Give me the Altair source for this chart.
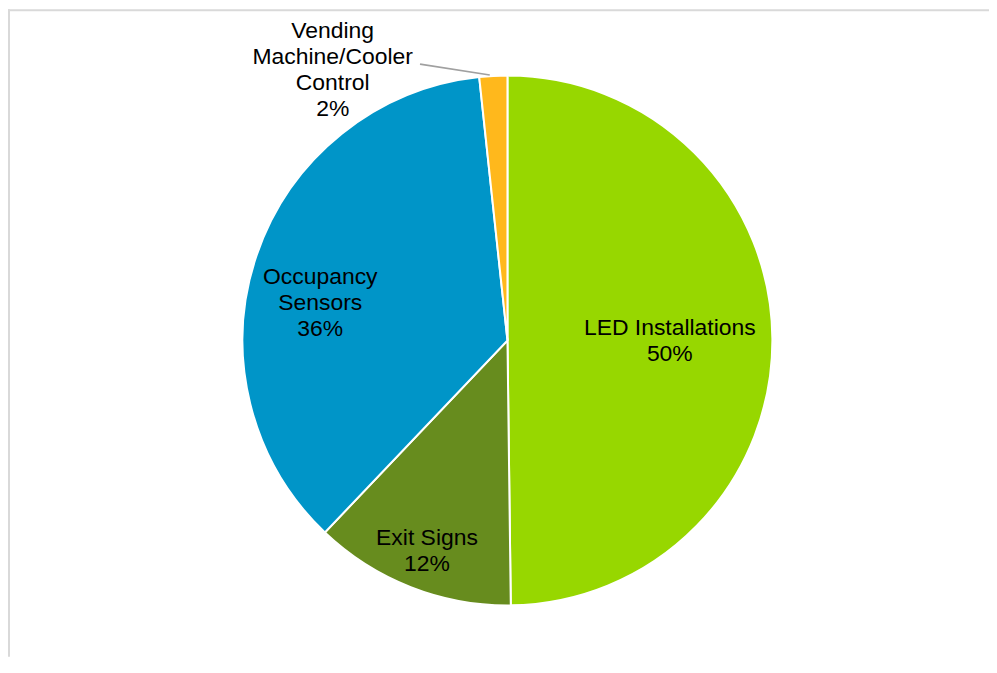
import math
import altair as alt
import pandas as pd

# ---- data ----
categories = ["LED Installations", "Exit Signs", "Occupancy Sensors",
              "Vending Machine/Cooler Control"]
shares = [49.8, 12.3, 36.2, 1.7]
label_texts = ["LED Installations\n50%", "Exit Signs\n12%",
               "Occupancy\nSensors\n36%", "Vending\nMachine/Cooler\nControl\n2%"]
slice_order = [0, 1, 2, 3]
colors = ["#97D700", "#678C1E", "#0095C8", "#FFB81C"]

df = pd.DataFrame({"category": categories, "share": shares,
                   "label": label_texts, "order": slice_order})

W, H = 985, 650
CX, CY = 501.5, 332.5
R = 266
FONT = "Liberation Sans"
FS = 23
LH = 26

arcs = alt.Chart(df).mark_arc(radius=R, stroke="white", strokeWidth=2).encode(
    theta=alt.Theta("share:Q", stack=True),
    order=alt.Order("order:Q"),
    color=alt.Color("category:N", scale=alt.Scale(domain=categories, range=colors),
                    legend=None),
    x=alt.value(CX), y=alt.value(CY),
)

base = alt.Chart(df).transform_window(
    cum="sum(share)", sort=[alt.SortField("order")], frame=[None, 0]
).transform_calculate(mid="datum.cum - datum.share / 2")


def label(cat, r, dx, dy, nlines):
    return base.transform_filter(alt.datum.category == cat).mark_text(
        radius=r, dx=dx, dy=dy - (nlines - 1) / 2 * LH, font=FONT, fontSize=FS,
        lineHeight=LH, lineBreak="\n", align="center", baseline="middle",
        color="#000000",
    ).encode(
        theta=alt.Theta("mid:Q", scale=alt.Scale(domain=[0, 100], range=[0, 2 * math.pi])),
        text="label:N",
        x=alt.value(CX), y=alt.value(CY),
    )


labels = [
    label("LED Installations", 165, -2, 2, 2),
    label("Exit Signs", 224, 1, 3, 2),
    label("Occupancy Sensors", 190, -8, 23, 3),
    label("Vending Machine/Cooler Control", 290, -160, 18, 4),
]

leader = alt.Chart(df).mark_rule(color="#A0A0A0", strokeWidth=1.6).encode(
    x=alt.value(413.7), y=alt.value(55), x2=alt.value(483.7), y2=alt.value(66)
).transform_filter(alt.datum.order == 0)

frame_top = alt.Chart(df).mark_rule(color="#D9D9D9", strokeWidth=2).encode(
    x=alt.value(0), x2=alt.value(W), y=alt.value(1), y2=alt.value(1)
).transform_filter(alt.datum.order == 0)
frame_left = alt.Chart(df).mark_rule(color="#D9D9D9", strokeWidth=2).encode(
    x=alt.value(1), x2=alt.value(1), y=alt.value(0), y2=alt.value(H)
).transform_filter(alt.datum.order == 0)

chart = alt.layer(arcs, *labels, leader, frame_top, frame_left).resolve_scale(
    theta="independent"
).properties(
    width=W, height=H, padding=0, autosize=alt.AutoSizeParams(type="none"),
    background="white",
).configure_view(stroke=None)

chart.save("out.html", embed_options={"renderer": "svg", "actions": False})
